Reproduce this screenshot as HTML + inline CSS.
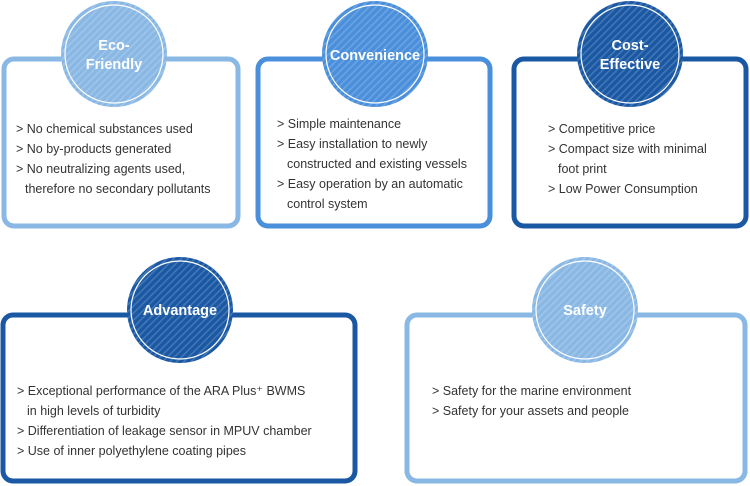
<!DOCTYPE html>
<html><head><meta charset="utf-8"><style>
html,body{margin:0;padding:0;background:#fff;width:750px;height:486px;overflow:hidden}
text{font-family:"Liberation Sans",sans-serif}
</style></head><body>
<svg width="750" height="486" xmlns="http://www.w3.org/2000/svg">
<defs>
<pattern id="st" width="5" height="5" patternUnits="userSpaceOnUse" patternTransform="rotate(45)">
<rect width="5" height="5" fill="none"/><rect width="1.6" height="5" fill="#fff" opacity="0.18"/>
</pattern>
</defs>
<g fill="#fff" stroke-width="5">
<rect x="4" y="59" width="234" height="167" rx="10" stroke="#8ab8e4"/>
<rect x="258" y="59" width="232" height="167" rx="10" stroke="#4a8fdb"/>
<rect x="514" y="59" width="232" height="167" rx="10" stroke="#1a58a3"/>
<rect x="3" y="315" width="352" height="166" rx="10" stroke="#1a58a3"/>
<rect x="407" y="315" width="338" height="166" rx="10" stroke="#8ab8e4"/>
</g>
<g>
<circle cx="114" cy="54" r="53" fill="#8ab8e4"/><circle cx="114" cy="54" r="53" fill="url(#st)"/><circle cx="114" cy="54" r="49" fill="none" stroke="#fff" stroke-width="1.2"/>
<circle cx="375" cy="54" r="53" fill="#4a8fdb"/><circle cx="375" cy="54" r="53" fill="url(#st)"/><circle cx="375" cy="54" r="49" fill="none" stroke="#fff" stroke-width="1.2"/>
<circle cx="630" cy="54" r="53" fill="#1a58a3"/><circle cx="630" cy="54" r="53" fill="url(#st)"/><circle cx="630" cy="54" r="49" fill="none" stroke="#fff" stroke-width="1.2"/>
<circle cx="180" cy="310" r="53" fill="#1a58a3"/><circle cx="180" cy="310" r="53" fill="url(#st)"/><circle cx="180" cy="310" r="49" fill="none" stroke="#fff" stroke-width="1.2"/>
<circle cx="585" cy="310" r="53" fill="#8ab8e4"/><circle cx="585" cy="310" r="53" fill="url(#st)"/><circle cx="585" cy="310" r="49" fill="none" stroke="#fff" stroke-width="1.2"/>
</g>
<g fill="#fff" font-size="14.5" font-weight="bold" text-anchor="middle">
<text x="114" y="50">Eco-</text><text x="114" y="69">Friendly</text>
<text x="375" y="60">Convenience</text>
<text x="630" y="50">Cost-</text><text x="630" y="69">Effective</text>
<text x="180" y="315">Advantage</text>
<text x="585" y="315">Safety</text>
</g>
<g fill="#333" font-size="12.5">
<text x="16" y="133">&gt; No chemical substances used</text>
<text x="16" y="153">&gt; No by-products generated</text>
<text x="16" y="173">&gt; No neutralizing agents used,</text>
<text x="25" y="193">therefore no secondary pollutants</text>
<text x="277" y="128">&gt; Simple maintenance</text>
<text x="277" y="148">&gt; Easy installation to newly</text>
<text x="287" y="168">constructed and existing vessels</text>
<text x="277" y="188">&gt; Easy operation by an automatic</text>
<text x="287" y="208">control system</text>
<text x="548" y="133">&gt; Competitive price</text>
<text x="548" y="153">&gt; Compact size with minimal</text>
<text x="558" y="173">foot print</text>
<text x="548" y="193">&gt; Low Power Consumption</text>
<text x="17" y="395">&gt; Exceptional performance of the ARA Plus⁺ BWMS</text>
<text x="27" y="415">in high levels of turbidity</text>
<text x="17" y="435">&gt; Differentiation of leakage sensor in MPUV chamber</text>
<text x="17" y="455">&gt; Use of inner polyethylene coating pipes</text>
<text x="432" y="395">&gt; Safety for the marine environment</text>
<text x="432" y="415">&gt; Safety for your assets and people</text>
</g>
</svg>
</body></html>
